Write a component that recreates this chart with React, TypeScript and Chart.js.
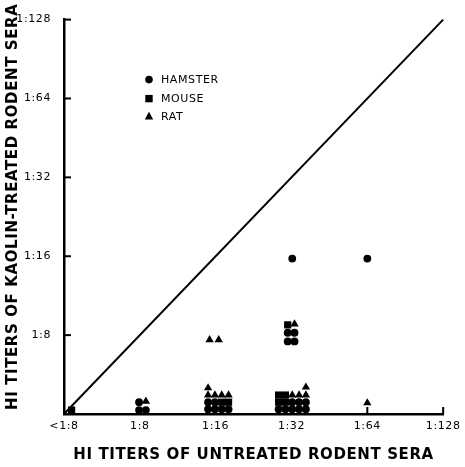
import React, { useEffect, useRef } from "react";
import { Chart, registerables } from "chart.js";

Chart.register(...registerables);

// Titer axis positions: 0 = <1:8, 1 = 1:8, 2 = 1:16, 3 = 1:32, 4 = 1:64, 5 = 1:128
const xTickLabels = ["<1:8", "1:8", "1:16", "1:32", "1:64", "1:128"];
const yTickLabels = ["", "1:8", "1:16", "1:32", "1:64", "1:128"];
const xTitle = "HI TITERS OF UNTREATED RODENT SERA";
const yTitle = "HI TITERS OF KAOLIN-TREATED RODENT SERA";
const seriesNames = ["HAMSTER", "MOUSE", "RAT"];

// [untreated titer, kaolin-treated titer] per serum (stacked markers as drawn)
const hamster: [number, number][] = [
  [0.99, 0.15], [0.99, 0.05], [1.08, 0.05],
  [1.9, 0.15], [1.99, 0.15], [1.9, 0.06], [1.99, 0.06], [2.08, 0.06], [2.17, 0.06],
  [3.01, 0.15], [3.1, 0.15], [3.19, 0.15],
  [2.83, 0.06], [2.92, 0.06], [3.01, 0.06], [3.1, 0.06], [3.19, 0.06],
  [2.95, 1.03], [3.04, 1.03], [2.95, 0.92], [3.04, 0.92],
  [3.01, 1.97], [4.0, 1.97],
];
const mouse: [number, number][] = [
  [0.1, 0.05],
  [2.08, 0.15], [2.17, 0.15],
  [2.83, 0.24], [2.92, 0.24], [2.83, 0.15], [2.92, 0.15],
  [2.95, 1.13],
];
const rat: [number, number][] = [
  [1.08, 0.16],
  [1.9, 0.33], [1.9, 0.24], [1.99, 0.24], [2.08, 0.24], [2.17, 0.24],
  [1.92, 0.94], [2.04, 0.94],
  [3.01, 0.24], [3.1, 0.24], [3.19, 0.24], [3.19, 0.34],
  [3.04, 1.14],
  [4.0, 0.14],
];
const identityLine: [number, number][] = [[0, 0], [5, 5]];

const FONT = "'DejaVu Sans', 'Liberation Sans', sans-serif";
const SPACING = "0.6px";

const toXY = (arr: [number, number][]) => arr.map(([x, y]) => ({ x, y }));

const spacingPlugin = {
  id: "spacing",
  beforeDraw(chart: any) {
    chart.ctx.letterSpacing = SPACING;
  },
};

const inwardTicksPlugin = {
  id: "inwardTicks",
  afterDraw(chart: any) {
    const ctx = chart.ctx;
    const xs = chart.scales.x;
    const ys = chart.scales.y;
    const len = 7;
    ctx.save();
    ctx.strokeStyle = "#000";
    ctx.lineWidth = 2;
    xs.ticks.forEach((t: any) => {
      const px = xs.getPixelForValue(t.value);
      ctx.beginPath();
      ctx.moveTo(px, xs.top);
      ctx.lineTo(px, xs.top - len);
      ctx.stroke();
    });
    ys.ticks.forEach((t: any) => {
      const py = ys.getPixelForValue(t.value);
      ctx.beginPath();
      ctx.moveTo(ys.right, py);
      ctx.lineTo(ys.right + len, py);
      ctx.stroke();
    });
    ctx.restore();
  },
};

const yTitlePlugin = {
  id: "yTitle",
  afterDraw(chart: any) {
    const ctx = chart.ctx;
    const area = chart.chartArea;
    ctx.save();
    ctx.letterSpacing = SPACING;
    ctx.translate(13, (area.top + area.bottom) / 2 - 10);
    ctx.rotate(-Math.PI / 2);
    ctx.font = `bold 15px ${FONT}`;
    ctx.fillStyle = "#000";
    ctx.textAlign = "center";
    ctx.textBaseline = "middle";
    ctx.fillText(yTitle, 0, 0);
    ctx.restore();
  },
};

const legendPlugin = {
  id: "insideLegend",
  afterDraw(chart: any) {
    const ctx = chart.ctx;
    const area = chart.chartArea;
    const mx = area.left + 85;
    const tx = area.left + 97;
    const rows = [area.top + 60, area.top + 79, area.top + 97];
    ctx.save();
    ctx.letterSpacing = SPACING;
    ctx.fillStyle = "#000";
    ctx.beginPath();
    ctx.arc(mx, rows[0], 3.8, 0, Math.PI * 2);
    ctx.fill();
    ctx.fillRect(mx - 3.7, rows[1] - 3.7, 7.4, 7.4);
    ctx.beginPath();
    ctx.moveTo(mx, rows[2] - 4.8);
    ctx.lineTo(mx + 4.2, rows[2] + 3);
    ctx.lineTo(mx - 4.2, rows[2] + 3);
    ctx.closePath();
    ctx.fill();
    ctx.font = `11px ${FONT}`;
    ctx.textBaseline = "middle";
    ctx.textAlign = "left";
    seriesNames.forEach((n, i) => ctx.fillText(n, tx, rows[i] + 0.5));
    ctx.restore();
  },
};

export default function App() {
  const ref = useRef<HTMLCanvasElement>(null);
  useEffect(() => {
    document.body.style.margin = "0";
    const canvas = ref.current;
    if (!canvas) return;
    const chart = new Chart(canvas, {
      type: "scatter",
      data: {
        datasets: [
          {
            type: "line",
            label: "identity",
            data: toXY(identityLine),
            borderColor: "#000",
            borderWidth: 2,
            pointRadius: 0,
            showLine: true,
            clip: false as any,
          } as any,
          {
            label: seriesNames[0],
            data: toXY(hamster),
            pointStyle: "circle",
            pointRadius: 3.9,
            backgroundColor: "#000",
            borderColor: "#000",
            borderWidth: 0,
            clip: false as any,
          },
          {
            label: seriesNames[1],
            data: toXY(mouse),
            pointStyle: "rect",
            pointRadius: 5.1,
            backgroundColor: "#000",
            borderColor: "#000",
            borderWidth: 0,
            clip: false as any,
          },
          {
            label: seriesNames[2],
            data: toXY(rat),
            pointStyle: "triangle",
            pointRadius: 4.8,
            backgroundColor: "#000",
            borderColor: "#000",
            borderWidth: 0,
            clip: false as any,
          },
        ],
      },
      options: {
        responsive: false,
        animation: false,
        layout: { padding: { left: 0, top: 18, right: 16, bottom: 0 } },
        plugins: {
          legend: { display: false },
          tooltip: { enabled: false },
        },
        scales: {
          x: {
            type: "linear",
            min: 0,
            max: 5,
            afterFit: (s: any) => {
              s.height = 53;
            },
            ticks: {
              stepSize: 1,
              padding: 6,
              color: "#000",
              font: { family: FONT, size: 11 },
              callback: (v: any) => xTickLabels[Math.round(Number(v))] ?? "",
              maxRotation: 0,
              autoSkip: false,
            },
            grid: { display: false, drawTicks: false },
            border: { display: true, color: "#000", width: 2.5 },
            title: {
              display: true,
              text: xTitle,
              color: "#000",
              font: { family: FONT, size: 15, weight: "bold" },
              padding: { top: 0, bottom: 3 },
            },
          },
          y: {
            type: "linear",
            min: 0,
            max: 5,
            afterFit: (s: any) => {
              s.width = 64;
            },
            ticks: {
              stepSize: 1,
              padding: 13,
              color: "#000",
              font: { family: FONT, size: 11 },
              callback: (v: any) => yTickLabels[Math.round(Number(v))] ?? "",
              autoSkip: false,
            },
            grid: { display: false, drawTicks: false },
            border: { display: true, color: "#000", width: 2.5 },
            title: { display: false, text: yTitle },
          },
        },
      } as any,
      plugins: [spacingPlugin, inwardTicksPlugin, yTitlePlugin, legendPlugin],
    });
    return () => chart.destroy();
  }, []);
  return (
    <div style={{ width: 465, height: 467, background: "#fff" }}>
      <canvas ref={ref} width={465} height={467} />
    </div>
  );
}
